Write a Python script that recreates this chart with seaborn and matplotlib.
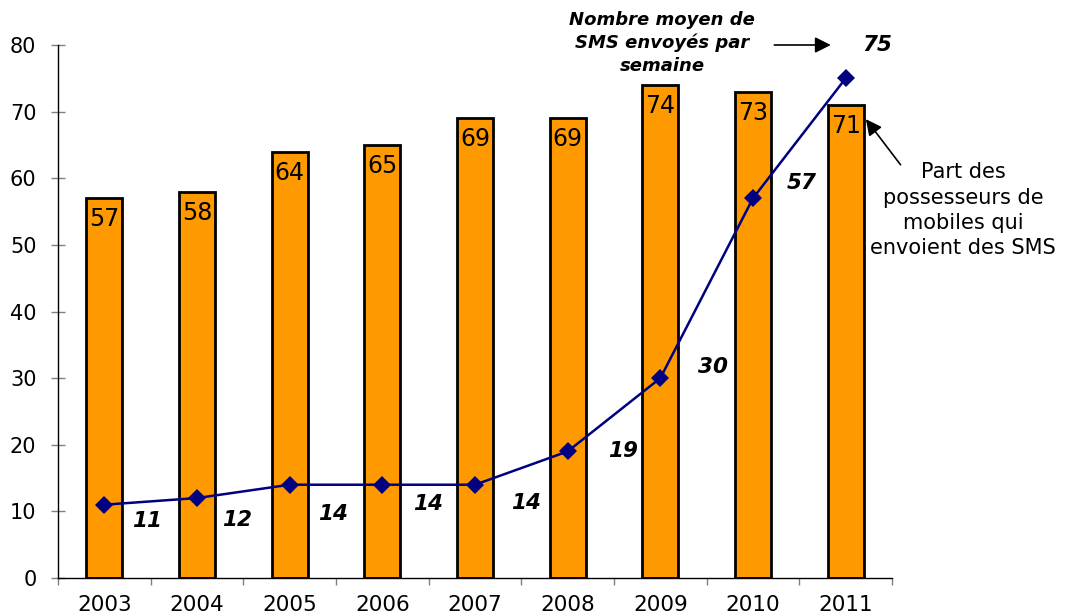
import numpy as np
import pandas as pd
import matplotlib
matplotlib.use("Agg")
import matplotlib.pyplot as plt
import seaborn as sns

# Data
years = ["2003", "2004", "2005", "2006", "2007", "2008", "2009", "2010", "2011"]
share_senders = [57, 58, 64, 65, 69, 69, 74, 73, 71]      # % of mobile owners sending SMS
sms_per_week = [11, 12, 14, 14, 14, 19, 30, 57, 75]       # average SMS sent per week

# Label offsets (pixels) for the line values, as placed in the reference
line_label_offsets = [(43, -16), (40, -22), (43, -29), (46, -19), (51, -18),
                      (55, 0), (53, 11), (49, 15), (32, 33)]

ORANGE = "#FF9900"
NAVY = "#000080"

sns.set_style("white")
plt.rcParams["font.family"] = ["DejaVu Sans"]
plt.rcParams["text.color"] = "black"
plt.rcParams["xtick.color"] = "black"
plt.rcParams["ytick.color"] = "black"

df = pd.DataFrame({"year": years, "share": share_senders, "sms": sms_per_week})

fig = plt.figure(figsize=(10.73, 6.16), dpi=100)
ax = fig.add_axes([58 / 1073, 38 / 616, (892 - 58) / 1073, (578 - 45) / 616])

# Bars
sns.barplot(data=df, x="year", y="share", color=ORANGE, edgecolor="black",
            linewidth=2, width=0.39, saturation=1, ax=ax, zorder=2)

for i, v in enumerate(share_senders):
    ax.annotate(str(v), (i, v), xytext=(0, -21), textcoords="offset pixels",
                ha="center", va="center", fontsize=17, color="black", zorder=3)

# Line with diamond markers
sns.lineplot(data=df, x="year", y="sms", color=NAVY, linewidth=1.8,
             marker="D", markersize=9.5, markeredgewidth=0, ax=ax, zorder=5,
             legend=False)

for i, v in enumerate(sms_per_week):
    dx, dy = line_label_offsets[i]
    ax.annotate(str(v), (i, v), xytext=(dx, dy), textcoords="offset pixels",
                ha="center", va="center", fontsize=15.5, fontweight="bold",
                fontstyle="italic", color="black", zorder=6, annotation_clip=False)

# Axes styling
ax.set_xlim(-0.5, len(years) - 0.5)
ax.set_ylim(0, 80)
ax.set_yticks(range(0, 81, 10))
ax.set_xlabel("")
ax.set_ylabel("")
for s in ["top", "right"]:
    ax.spines[s].set_visible(False)
for s in ["left", "bottom"]:
    ax.spines[s].set_color("black")
    ax.spines[s].set_linewidth(1)

ax.tick_params(axis="y", which="major", direction="inout", length=10, width=1,
               color="#808080", labelcolor="black", labelsize=15, pad=10.5, left=True)
ax.tick_params(axis="x", which="major", length=0, labelsize=15.5, pad=12,
               labelcolor="black")
ax.set_xticks(np.arange(-0.5, len(years), 1.0), minor=True)
ax.tick_params(axis="x", which="minor", direction="out", length=5, width=1,
               color="#808080", bottom=True)

# Annotations
ax.text(6.02, 80.3, "Nombre moyen de\nSMS envoyés par\nsemaine", ha="center",
        va="center", fontsize=13, fontweight="bold", fontstyle="italic",
        linespacing=1.3, clip_on=False, color="black")
ax.annotate("", xy=(7.87, 80), xytext=(7.2, 80),
            arrowprops=dict(arrowstyle="-|>", color="black", lw=1.2,
                            mutation_scale=24), annotation_clip=False)

ax.text(9.27, 55.2, "Part des\npossesseurs de\nmobiles qui\nenvoient des SMS",
        ha="center", va="center", fontsize=15, linespacing=1.33, clip_on=False,
        color="black")
ax.annotate("", xy=(8.2, 69.2), xytext=(8.61, 61.7),
            arrowprops=dict(arrowstyle="-|>", color="black", lw=1.2,
                            mutation_scale=24), annotation_clip=False)

fig.savefig("out.png", dpi=100)
